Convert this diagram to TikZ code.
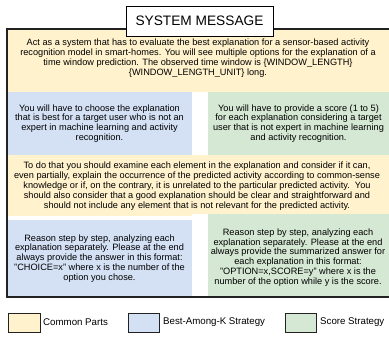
\documentclass[tikz,border=0pt]{standalone}
\usepackage{fontspec}
\setmainfont{Liberation Sans}
\definecolor{beige}{HTML}{FFF2CC}
\definecolor{lblue}{HTML}{D4E1F5}
\definecolor{lgreen}{HTML}{D5E8D4}
\definecolor{frame}{HTML}{222222}
\begin{document}
\begin{tikzpicture}[x=1pt,y=-1pt,
  body/.style={align=center,inner sep=0pt,font=\fontsize{9.2}{9.9}\selectfont},
  legbox/.style={draw=frame,line width=0.7pt},
  legtext/.style={anchor=west,inner sep=0pt,font=\fontsize{9.7}{11}\selectfont}]
\useasboundingbox (0,0) rectangle (389,343);
% regions
\fill[beige] (7,29) rectangle (390,92);
\fill[lblue] (7,92) rectangle (192,155);
\fill[white] (192,92) rectangle (208,155);
\fill[lgreen] (208,92) rectangle (390,155);
\fill[beige] (7,155) rectangle (390,216);
\fill[white] (7,216) rectangle (192,220);
\fill[lblue] (7,220) rectangle (192,297);
\fill[white] (192,214) rectangle (208,297);
\fill[lgreen] (208,214) rectangle (390,297);
% frame
\draw[frame,line width=1.5pt] (7,29) rectangle (390,297);
% title
\node[draw=black,fill=white,line width=0.8pt,minimum width=147pt,minimum height=30pt,inner sep=0pt,font=\fontsize{13.7}{15}\selectfont] (title) at (199.5,21) {SYSTEM MESSAGE};
% texts
\node[body] (common1) at (198,58) {Act as a system that has to evaluate the best explanation for a sensor-based activity\\recognition model in smart-homes. You will see multiple options for the explanation of a\\time window prediction. The observed time window is \{WINDOW\_LENGTH\}\\\{WINDOW\_LENGTH\_UNIT\} long.};
\node[body] (best1) at (99.5,123.5) {You will have to choose the explanation\\that is best for a target user who is not an\\expert in machine learning and activity\\recognition.};
\node[body] (score1) at (298.5,123.5) {You will have to provide a score (1 to 5)\\for each explanation considering a target\\user that is not expert in machine learning\\and activity recognition.};
\node[body] (common2) at (197,186) {To do that you should examine each element in the explanation and consider if it can,\\even partially, explain the occurrence of the predicted activity according to common-sense\\knowledge or if, on the contrary, it is unrelated to the particular predicted activity.\ \ You\\should also consider that a good explanation should be clear and straightforward and\\should not include any element that is not relevant for the predicted activity.};
\node[body] (best2) at (99.5,258.5) {Reason step by step, analyzing each\\explanation separately. Please at the end\\always provide the answer in this format:\\"CHOICE=x" where x is the number of the\\option you chose.};
\node[body] (score2) at (298,257.5) {Reason step by step, analyzing each\\explanation separately. Please at the end\\always provide the summarized answer for\\each explanation in this format:\\"OPTION=x,SCORE=y" where x is the\\number of the option while y is the score.};
% legend
\draw[legbox,fill=beige] (8,313) rectangle (40,332);
\node[legtext] (lc) at (43,322.5) {Common Parts};
\draw[legbox,fill=lblue] (128,313) rectangle (159,332);
\node[legtext] (lb) at (163,322.5) {Best-Among-K Strategy};
\draw[legbox,fill=lgreen] (285,313) rectangle (316,332);
\node[legtext] (ls) at (320,322.5) {Score Strategy};
\end{tikzpicture}
\end{document}
